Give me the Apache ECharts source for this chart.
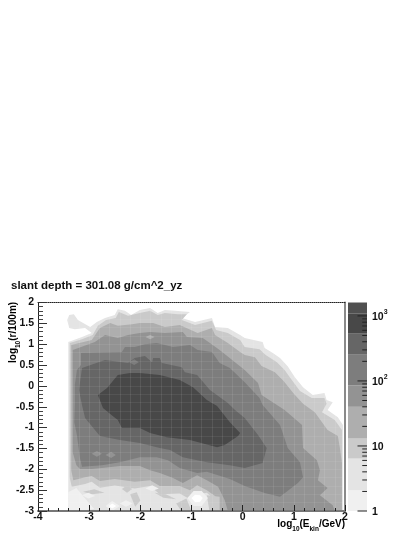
<!DOCTYPE html>
<html><head><meta charset="utf-8">
<script src="https://cdn.jsdelivr.net/npm/echarts@6/dist/echarts.min.js"></script>
<style>html,body{margin:0;padding:0;background:#fff}#c{width:415px;height:537px}</style>
</head><body><div id="c"></div>
<script>
const titleText = 'slant depth = 301.08 g/cm^2_yz';
const xRange = [-4, 2];
const yRange = [-3, 2];
const zTicks = [1, 10, 100, 1000];
const zMinorTicks = [2,3,4,5,6,7,8,9,20,30,40,50,60,70,80,90,200,300,400,500,600,700,800,900];
const zLevels = [1, 2.1, 6.4, 13, 40, 85, 253, 543, 1080, 1607];
const zColors = ['#f0f0f0','#e4e4e4','#cacaca','#aeaeae','#939393','#7d7d7d','#666666','#484848','#505050'];

const contourA = [[-3.41,-3],[-3.41,1.05],[-3.34,1.08],[-3.14,1.17],[-2.95,1.27],[-3.08,1.39],[-3.28,1.36],[-3.39,1.39],[-3.43,1.58],[-3.39,1.70],[-3.30,1.72],[-3.22,1.58],[-2.98,1.41],[-2.85,1.53],[-2.69,1.63],[-2.50,1.70],[-2.44,1.84],[-2.30,1.80],[-2.18,1.70],[-2.01,1.82],[-1.81,1.87],[-1.66,1.75],[-1.52,1.82],[-1.32,1.80],[-1.03,1.77],[-1.19,1.63],[-0.93,1.53],[-0.60,1.63],[-0.54,1.41],[-0.29,1.39],[-0.05,1.22],[0.04,1.15],[0.39,1.05],[0.43,0.91],[0.59,0.79],[0.73,0.67],[0.88,0.47],[1.02,0.21],[1.18,-0.03],[1.37,-0.22],[1.60,-0.17],[1.64,-0.34],[1.76,-0.39],[1.66,-0.58],[1.86,-0.75],[1.96,-0.94],[1.96,-3]];
const contourB = [[-3.38,-2.2],[-3.38,1.03],[-3.14,1.12],[-2.93,1.22],[-2.83,1.44],[-2.67,1.58],[-2.48,1.63],[-2.42,1.77],[-2.24,1.68],[-2.01,1.75],[-1.81,1.80],[-1.66,1.70],[-1.52,1.75],[-1.27,1.72],[-1.09,1.72],[-1.19,1.58],[-0.93,1.46],[-0.60,1.56],[-0.52,1.34],[-0.29,1.27],[-0.05,1.10],[0.04,0.93],[0.33,0.88],[0.45,0.74],[0.67,0.57],[0.82,0.38],[0.96,0.14],[1.12,-0.12],[1.35,-0.29],[1.60,-0.29],[1.64,-0.43],[1.55,-0.63],[1.80,-0.82],[1.94,-1.06],[1.94,-3],[-0.50,-3],[-0.58,-2.70],[-0.70,-2.56],[-0.89,-2.60],[-1.03,-2.72],[-1.23,-2.58],[-1.62,-2.60],[-1.81,-2.40],[-2.11,-2.46],[-2.50,-2.39],[-2.79,-2.44],[-2.95,-2.30],[-3.08,-2.35],[-3.34,-2.42]];
const contourC = [[-3.31,-2.26],[-3.35,-2.02],[-3.35,0.98],[-2.95,1.10],[-2.79,1.39],[-2.59,1.51],[-2.44,1.44],[-2.16,1.48],[-2.01,1.51],[-1.75,1.51],[-1.52,1.41],[-1.23,1.46],[-0.88,1.27],[-0.60,1.39],[-0.54,1.22],[-0.29,1.03],[-0.05,0.81],[0.04,0.74],[0.24,0.69],[0.37,0.48],[0.63,0.33],[0.80,0.12],[1.00,-0.19],[1.18,-0.43],[1.41,-0.63],[1.66,-1.06],[1.86,-1.20],[1.90,-1.49],[1.94,-1.85],[1.94,-3],[-0.45,-3],[-0.54,-2.64],[-0.70,-2.50],[-0.89,-2.38],[-1.03,-2.50],[-1.23,-2.40],[-1.62,-2.40],[-1.81,-2.26],[-2.11,-2.30],[-2.50,-2.23],[-2.79,-2.28],[-2.95,-2.16],[-3.08,-2.19]];
const contourD = [[-3.25,-1.90],[-3.32,-1.60],[-3.32,-0.46],[-3.32,0.86],[-2.89,1.05],[-2.69,1.22],[-2.44,1.15],[-2.24,1.22],[-2.01,1.27],[-1.81,1.29],[-1.52,1.27],[-1.17,1.29],[-1.09,1.17],[-0.78,1.15],[-0.64,1.03],[-0.45,0.86],[0.04,0.38],[0.30,0.07],[0.37,-0.22],[0.67,-0.46],[0.82,-0.58],[1.16,-0.94],[1.18,-1.49],[1.45,-1.78],[1.51,-2.02],[1.47,-2.26],[1.66,-2.45],[1.51,-2.62],[1.76,-2.86],[1.80,-3],[-0.29,-3],[-0.35,-2.74],[-0.48,-2.42],[-0.70,-2.26],[-0.89,-2.14],[-1.17,-2.33],[-1.36,-2.21],[-1.62,-2.09],[-1.81,-2.02],[-2.01,-1.92],[-2.40,-1.92],[-2.75,-1.97],[-2.95,-1.99],[-3.18,-1.99]];
const contourE = [[-3.16,0.79],[-2.36,0.81],[-2.30,0.93],[-2.11,0.93],[-1.91,1.00],[-1.68,1.03],[-1.36,0.93],[-1.03,0.98],[-0.88,0.86],[-0.60,0.81],[-0.45,0.55],[-0.25,0.43],[0.04,0.09],[0.33,-0.29],[0.39,-0.46],[0.73,-0.94],[0.88,-1.49],[1.12,-1.83],[1.18,-2.19],[1.08,-2.33],[0.73,-2.66],[0.43,-2.57],[0.04,-2.40],[-0.25,-2.23],[-0.70,-2.06],[-0.89,-2.09],[-1.23,-1.97],[-1.46,-1.78],[-1.68,-1.71],[-2.01,-1.71],[-2.40,-1.83],[-2.75,-1.90],[-3.14,-1.94],[-3.18,-1.73],[-3.24,-1.18],[-3.29,-0.87],[-3.28,-0.46],[-3.28,0.02],[-3.24,0.38],[-3.16,0.50]];
const contourF = [[-3.14,0.43],[-2.69,0.62],[-2.24,0.55],[-2.11,0.67],[-1.91,0.72],[-1.77,0.57],[-1.75,0.67],[-1.62,0.67],[-1.58,0.55],[-1.19,0.45],[-1.13,0.33],[-0.89,0.26],[-0.64,-0.10],[-0.29,-0.41],[-0.15,-0.58],[0.04,-0.77],[0.30,-1.18],[0.47,-1.49],[0.39,-1.85],[0.04,-1.97],[-0.25,-1.90],[-0.70,-1.83],[-1.17,-1.71],[-1.42,-1.54],[-1.62,-1.49],[-2.01,-1.37],[-2.40,-1.30],[-2.79,-1.20],[-3.08,-0.77],[-3.14,-0.46],[-3.20,-0.10]];
const contourG = [[-2.83,-0.22],[-2.65,-0.05],[-2.44,0.26],[-2.20,0.31],[-2.01,0.31],[-1.62,0.26],[-1.23,0.14],[-0.97,-0.03],[-0.70,-0.34],[-0.50,-0.48],[-0.25,-0.87],[-0.05,-1.13],[-0.09,-1.20],[-0.35,-1.42],[-0.50,-1.47],[-1.03,-1.30],[-1.48,-1.23],[-1.81,-1.13],[-2.01,-1.01],[-2.36,-1.01],[-2.44,-0.82],[-2.54,-0.72],[-2.73,-0.53]];

const islandE1 = [[-2.22,0.57],[-2.12,0.64],[-2.03,0.57],[-2.12,0.50]];
const islandD1 = [[-1.90,1.17],[-1.81,1.22],[-1.72,1.17],[-1.81,1.12]];
const islandD2 = [[-2.95,-1.63],[-2.85,-1.56],[-2.75,-1.63],[-2.85,-1.70]];
const islandD3 = [[-2.68,-1.66],[-2.57,-1.58],[-2.48,-1.66],[-2.57,-1.73]];
const islandC1 = [[-2.36,-2.47],[-2.26,-2.38],[-2.16,-2.47],[-2.26,-2.56]];
const islandC2 = [[-3.12,-2.54],[-2.9,-2.48],[-2.7,-2.56],[-2.95,-2.6]];
const islandC3 = [[-1.72,-2.56],[-1.5,-2.6],[-1.3,-2.72],[-1.55,-2.68]];
const islandC4 = [[-2.2,-2.6],[-2.07,-2.55],[-2.0,-2.75],[-2.1,-2.9]];
const islandC5 = [[-1.1,-2.7],[-1.3,-2.82],[-1.2,-3],[-1.0,-3]];
const islandC6 = [[-0.7,-2.62],[-0.45,-2.66],[-0.45,-3],[-0.65,-3]];
const islandA1 = [[-1.08,-2.69],[-0.96,-2.52],[-0.8,-2.52],[-0.68,-2.69],[-0.8,-2.88],[-0.96,-2.88]];
const islandW1 = [[-1.0,-2.69],[-0.93,-2.61],[-0.83,-2.62],[-0.78,-2.69],[-0.83,-2.78],[-0.93,-2.79]];
const islandA2 = [[-3.41,-2.55],[-3.25,-2.45],[-3.08,-2.7],[-2.9,-2.95],[-3.2,-3],[-3.41,-3]];
const islandA3 = [[-2.68,-2.88],[-2.55,-2.76],[-2.4,-2.88],[-2.55,-3]];
const islandW3 = [[-2.62,-2.88],[-2.55,-2.82],[-2.47,-2.88],[-2.55,-2.94]];
const islandA4 = [[-2.4,-2.82],[-2.28,-2.74],[-2.15,-2.82],[-2.28,-2.9]];
const islandA5 = [[-3.14,-2.62],[-3.02,-2.56],[-2.88,-2.64],[-3.02,-2.7]];
const islandA6 = [[-1.9,-2.46],[-1.77,-2.38],[-1.64,-2.46],[-1.77,-2.52]];

const bands = [
  [1, contourA], [2, contourB], [3, contourC], [4, contourD], [5, contourE], [6, contourF], [7, contourG],
  [5, islandE1], [3, islandD1], [4, islandD2], [4, islandD3],
  [2, islandC1], [2, islandC2], [2, islandC3], [2, islandC4], [2, islandC5], [2, islandC6],
  [0, islandA2], [0, islandA1], [-1, islandW1], [0, islandA3], [-1, islandW3], [0, islandA4], [0, islandA5], [0, islandA6]
];

const FF = '"Liberation Sans", Arial, sans-serif';
const base = {fontFamily: FF, fontWeight: 'bold', color: '#111'};
const rich = {
  a: {...base, fontSize: 10, lineHeight: 14, verticalAlign: 'top'},
  s: {...base, fontSize: 6.5, lineHeight: 14, verticalAlign: 'bottom'},
  n: {...base, fontSize: 10.5, lineHeight: 14, verticalAlign: 'bottom'},
  p: {...base, fontSize: 7, lineHeight: 14, verticalAlign: 'top'}
};
const chart = echarts.init(document.getElementById('c'), null, {renderer: 'canvas'});
chart.setOption({
  animation: false,
  backgroundColor: '#fff',
  title: {text: titleText, left: 11, top: 279.5, padding: 0,
    textStyle: {fontFamily: FF, fontWeight: 'bold', fontSize: 11.5, color: '#111'}},
  graphic: [
    {type: 'text', x: 22, y: 363, rotation: Math.PI / 2, z: 10,
      style: {text: '{a|log}{s|10}{a|(r/100m)}', rich, align: 'left', verticalAlign: 'bottom'}},
    {type: 'text', x: 345, y: 519, z: 10,
      style: {text: '{a|log}{s|10}{a|(E}{s|kin}{a|/GeV)}', rich, align: 'right', verticalAlign: 'top'}}
  ],
  grid: [
    {left: 38, top: 302.5, width: 307, height: 208.5, outerBoundsMode: 'none', containLabel: false},
    {left: 348, top: 302.5, width: 19, height: 208.5, outerBoundsMode: 'none', containLabel: false}
  ],
  xAxis: [
    {gridIndex: 0, type: 'value', min: xRange[0], max: xRange[1], interval: 1, position: 'bottom', z: 5,
      axisLine: {onZero: false, lineStyle: {color: '#777', width: 2}},
      axisTick: {show: true, inside: true, length: 6, lineStyle: {color: '#222'}},
      minorTick: {show: true, splitNumber: 5, length: 3, lineStyle: {color: '#222'}},
      axisLabel: {...base, fontSize: 10.5, margin: 1, showMinLabel: true, showMaxLabel: true, hideOverlap: false},
      splitLine: {show: false}},
    {gridIndex: 0, type: 'value', min: xRange[0], max: xRange[1], interval: 0.2, position: 'top', z: 4,
      axisLine: {onZero: false, lineStyle: {color: '#222', width: 1, type: [1, 1]}},
      axisTick: {show: false}, axisLabel: {show: false},
      splitLine: {show: true, lineStyle: {color: 'rgba(255,255,255,0.09)', width: 1}}},
    {gridIndex: 1, type: 'value', min: 0, max: 1, show: false}
  ],
  yAxis: [
    {gridIndex: 0, type: 'value', min: yRange[0], max: yRange[1], interval: 0.5, position: 'left', z: 5,
      axisLine: {onZero: false, lineStyle: {color: '#222', width: 1}},
      axisTick: {show: true, inside: true, length: 9, lineStyle: {color: '#333'}},
      minorTick: {show: true, splitNumber: 5, length: 5, lineStyle: {color: '#444'}},
      axisLabel: {...base, fontSize: 10.5, margin: 4, showMinLabel: true, showMaxLabel: true, hideOverlap: false},
      splitLine: {show: false}},
    {gridIndex: 0, type: 'value', min: yRange[0], max: yRange[1], interval: 0.2, position: 'right', z: 4,
      axisLine: {onZero: false, lineStyle: {color: '#8a8a8a', width: 2}},
      axisTick: {show: false}, axisLabel: {show: false},
      splitLine: {show: true, lineStyle: {color: 'rgba(255,255,255,0.07)', width: 1}}},
    {gridIndex: 1, type: 'log', logBase: 10, min: zLevels[0], max: zLevels[zLevels.length - 1], position: 'right', z: 5,
      axisLine: {show: false},
      axisTick: {show: false},
      axisLabel: {customValues: zTicks, margin: 5, rich,
        formatter: v => { const e = Math.round(Math.log10(v)); return e === 0 ? '{n|1}' : e === 1 ? '{n|10}' : '{n|10}{p|' + e + '}'; }},
      splitLine: {show: false}}
  ],
  series: [
    {type: 'custom', xAxisIndex: 0, yAxisIndex: 0, clip: true, silent: true, z: 2,
      data: bands.map((b, i) => [i]),
      renderItem: (params, api) => {
        const b = bands[params.dataIndex];
        return {type: 'polygon', shape: {points: b[1].map(p => api.coord(p))},
          style: {fill: b[0] < 0 ? '#ffffff' : zColors[b[0]]}};
      }},
    {type: 'custom', xAxisIndex: 2, yAxisIndex: 2, silent: true, z: 2,
      data: zColors.map((c, i) => [i]),
      renderItem: (params, api) => {
        const i = params.dataIndex;
        const p0 = api.coord([0, zLevels[i]]), p1 = api.coord([1, zLevels[i + 1]]);
        return {type: 'rect', shape: {x: p0[0], y: p1[1], width: p1[0] - p0[0], height: p0[1] - p1[1]},
          style: {fill: zColors[i]}};
      }},
    {type: 'custom', xAxisIndex: 2, yAxisIndex: 2, silent: true, z: 3,
      data: zTicks.map(v => [v, 0.5]).concat(zMinorTicks.map(v => [v, 0.25])),
      renderItem: (params, api) => {
        const v = api.value(0), f = api.value(1);
        const p1 = api.coord([1, v]), p0 = api.coord([1 - f, v]);
        return {type: 'line', shape: {x1: p0[0], y1: p0[1], x2: p1[0], y2: p1[1]},
          style: {stroke: '#222', lineWidth: 1}};
      }}
  ]
});
</script></body></html>
